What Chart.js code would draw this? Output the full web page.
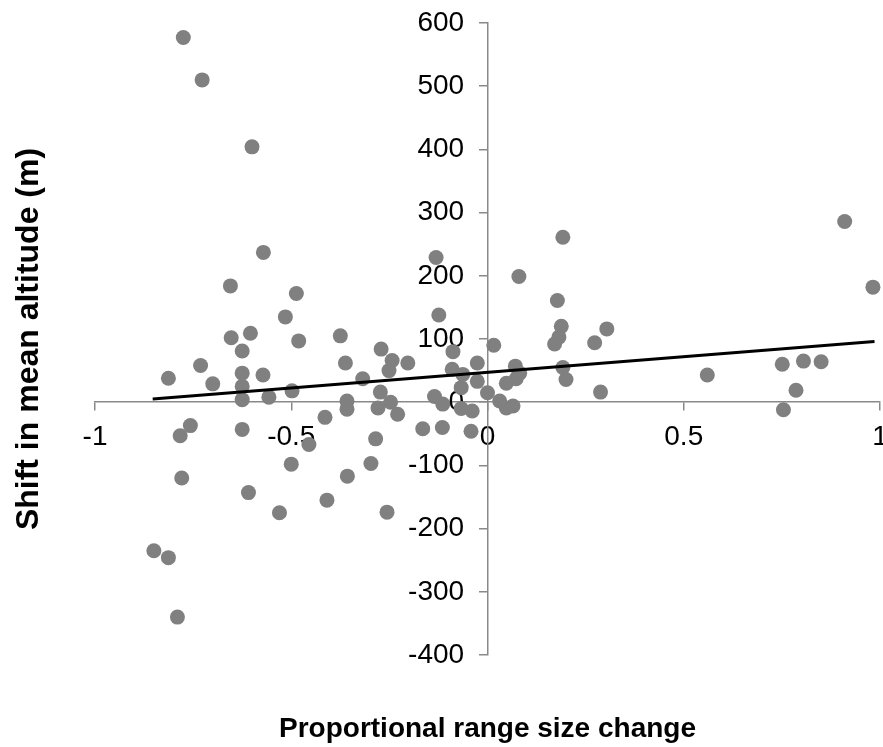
<!DOCTYPE html>
<html><head><meta charset="utf-8">
<script src="https://cdn.jsdelivr.net/npm/chart.js@4/dist/chart.umd.min.js"></script>
<style>html,body{margin:0;padding:0;background:#fff}</style>
</head><body>
<canvas id="c" width="883" height="747"></canvas>
<script>
const rangeChange = [-0.850,-0.813,-0.813,-0.790,-0.783,-0.779,-0.775,-0.757,-0.731,-0.727,-0.700,-0.655,-0.653,-0.625,-0.625,-0.625,-0.625,-0.625,-0.609,-0.604,-0.600,-0.572,-0.571,-0.557,-0.530,-0.515,-0.500,-0.498,-0.487,-0.481,-0.455,-0.414,-0.409,-0.375,-0.362,-0.358,-0.358,-0.357,-0.318,-0.297,-0.285,-0.279,-0.273,-0.271,-0.256,-0.251,-0.247,-0.243,-0.229,-0.203,-0.165,-0.135,-0.131,-0.124,-0.115,-0.114,-0.090,-0.088,-0.067,-0.067,-0.063,-0.042,-0.039,-0.026,-0.026,0.000,0.016,0.031,0.048,0.048,0.065,0.071,0.073,0.080,0.082,0.171,0.178,0.182,0.188,0.192,0.192,0.200,0.273,0.288,0.304,0.560,0.751,0.754,0.786,0.805,0.850,0.910,0.982];
const altitudeShift = [-235,-246,38,-340,-53,-120,577,-37,58,510,29,184,102,81,46,25,4,-43,-143,109,404,43,237,8,-175,135,-98,18,172,97,-67,-24,-155,105,62,2,-11,-117,37,-97,-58,-9,16,84,-174,50,0,66,-19,62,-42,9,229,138,-40,-3,52,80,23,-10,44,-46,-14,62,33,15,90,2,30,-9,-6,57,37,199,46,92,161,103,120,261,55,36,94,16,116,43,60,-12,19,65,64,286,182];
const trendX = [-0.853, 0.986];
const trendY = [5, 96];
const xTickValues = [-1, -0.5, 0, 0.5, 1];
const xTickLabels = ['-1', '-0.5', '0', '0.5', '1'];
const yTickValues = [-400, -300, -200, -100, 0, 100, 200, 300, 400, 500, 600];
const yTickLabels = ['-400', '-300', '-200', '-100', '0', '100', '200', '300', '400', '500', '600'];
const xTitle = 'Proportional range size change';
const yTitle = 'Shift in mean altitude (m)';

const scatterPts = rangeChange.map((x, i) => ({x: x, y: altitudeShift[i]}));
const trendPts = trendX.map((x, i) => ({x: x, y: trendY[i]}));
const FONT = "'Liberation Sans', Arial, sans-serif";
const AXIS = '#898989';
// gap between y tick labels and the centred y axis (label alignment is fixed to the axis line)
const Y_LABEL_GAP = '   ';

new Chart(document.getElementById('c'), {
  type: 'scatter',
  data: {
    datasets: [
      {type: 'line', data: trendPts, borderColor: '#000', borderWidth: 3, pointRadius: 0, fill: false, tension: 0, clip: false},
      {data: scatterPts, backgroundColor: '#808080', pointRadius: 7.5, pointHoverRadius: 7.5, borderWidth: 0, clip: false}
    ]
  },
  options: {
    responsive: false,
    animation: false,
    devicePixelRatio: 1,
    layout: {autoPadding: false, padding: {left: 0, right: 3, top: 23, bottom: 0}},
    plugins: {
      legend: {display: false},
      tooltip: {enabled: false},
      title: {display: true, text: yTitle, position: 'left', fullSize: false, color: '#000',
        font: {family: FONT, size: 32, weight: 'bold'}, padding: {top: 10, bottom: 46.6}},
      subtitle: {display: true, text: xTitle, position: 'bottom', fullSize: false, color: '#000',
        font: {family: FONT, size: 28, weight: 'bold'}, padding: {top: 57, bottom: 1.4}}
    },
    scales: {
      x: {
        type: 'linear', min: -1, max: 1, position: {y: 0},
        grid: {drawOnChartArea: false, drawTicks: true, tickLength: 8, color: AXIS, lineWidth: 1.5},
        border: {color: AXIS, width: 1.5},
        ticks: {stepSize: 0.5, padding: 10, color: '#000', font: {family: FONT, size: 28},
          callback: (v) => { const i = xTickValues.findIndex(t => Math.abs(t - v) < 1e-9); return i >= 0 ? xTickLabels[i] : ''; }},
        afterFit: (s) => { s.height = 0; s.paddingLeft = 0; s.paddingRight = 0; }
      },
      y: {
        type: 'linear', min: -400, max: 600, position: {x: 0},
        grid: {drawOnChartArea: false, drawTicks: true, tickLength: 8, color: AXIS, lineWidth: 1.5},
        border: {color: AXIS, width: 1.5},
        ticks: {stepSize: 100, padding: 5, color: '#000', font: {family: FONT, size: 28},
          callback: (v) => { const i = yTickValues.indexOf(v); return i >= 0 ? yTickLabels[i] + Y_LABEL_GAP : ''; }},
        afterFit: (s) => { s.width = 0; s.paddingTop = 0; s.paddingBottom = 0; }
      }
    }
  }
});
</script>
</body></html>
